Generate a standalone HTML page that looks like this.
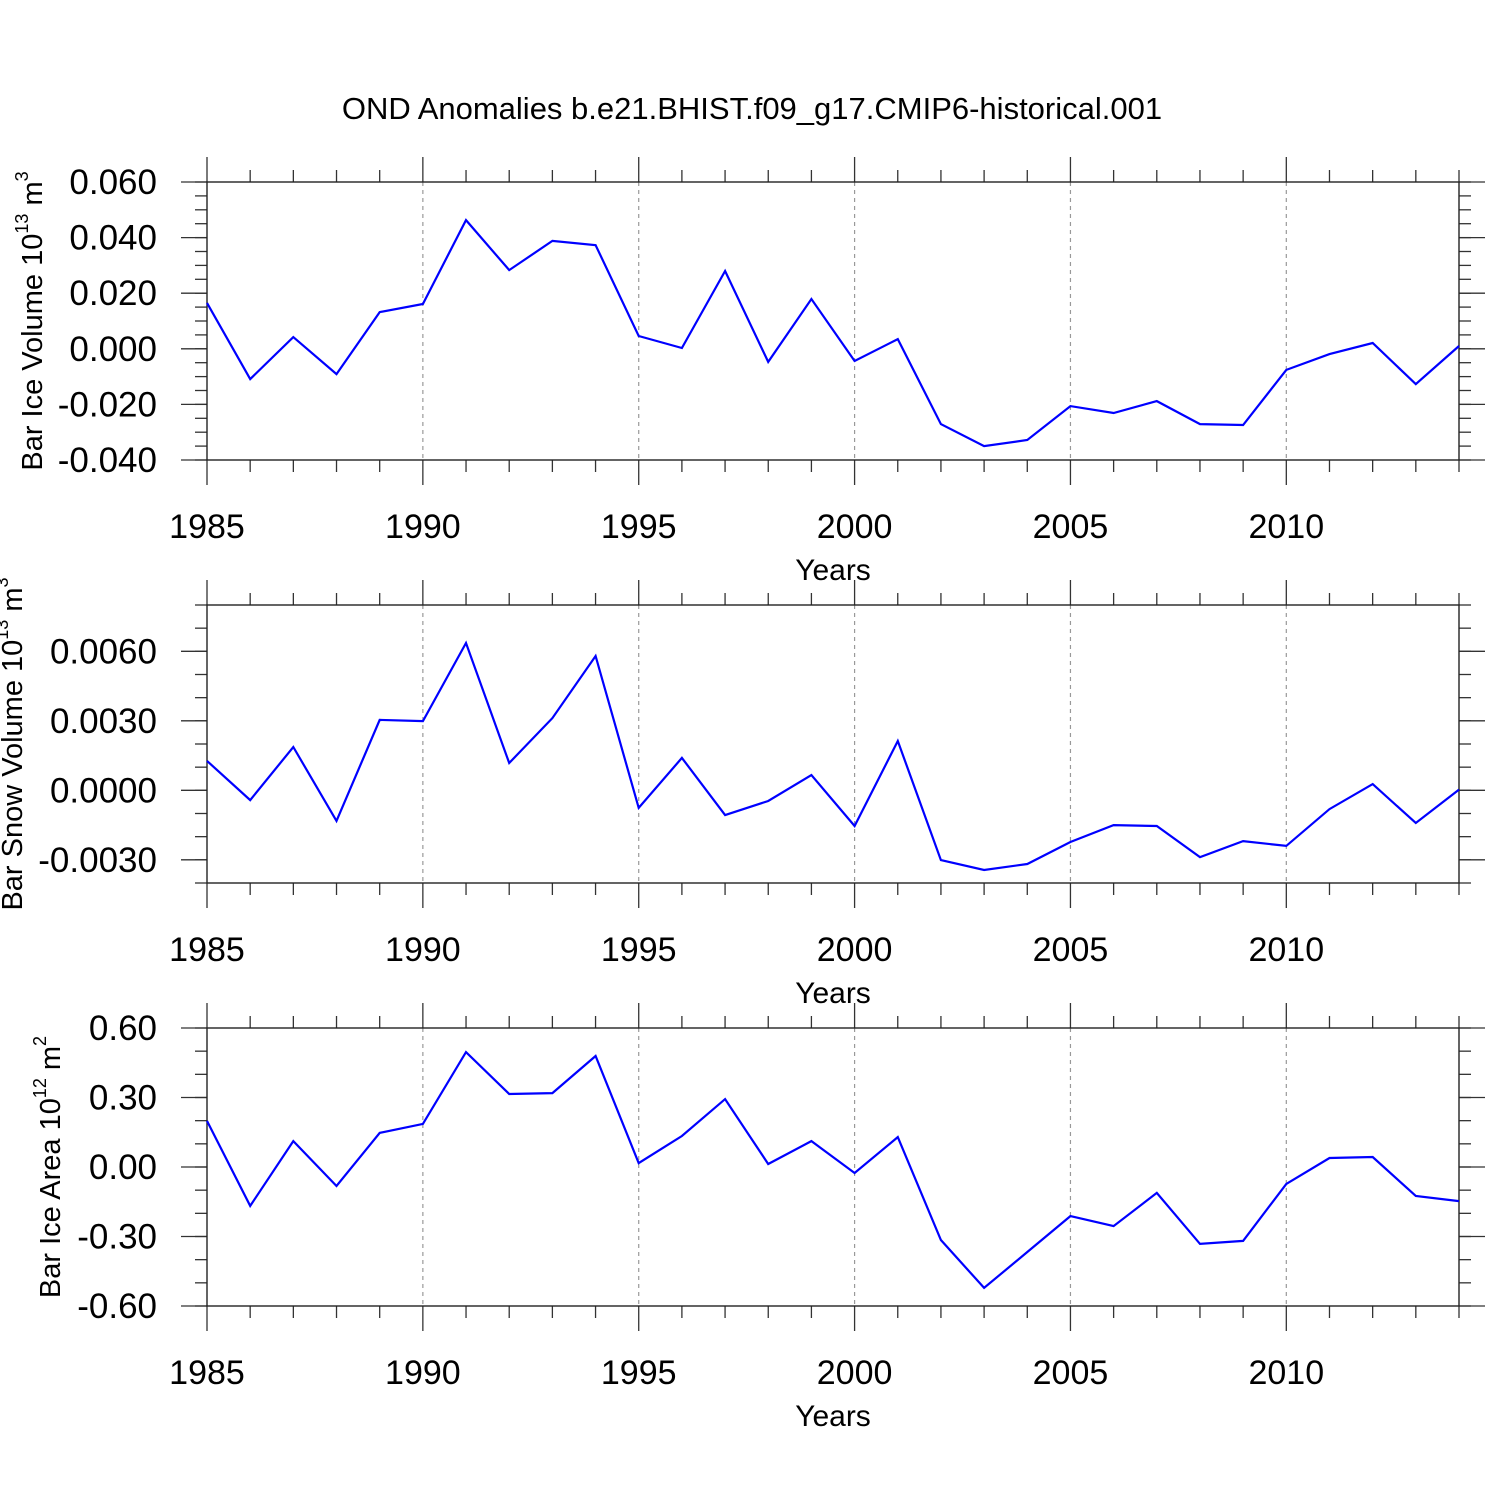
<!DOCTYPE html>
<html><head><meta charset="utf-8"><style>
html,body{margin:0;padding:0;background:#fff;}
svg{display:block;font-family:"Liberation Sans",sans-serif;}
</style></head><body>
<svg id="chart" width="1500" height="1500" viewBox="0 0 1500 1500">
<text x="752" y="119" font-size="31" text-anchor="middle">OND Anomalies b.e21.BHIST.f09_g17.CMIP6-historical.001</text>
</svg>
<script>
const years = [1985,1986,1987,1988,1989,1990,1991,1992,1993,1994,1995,1996,1997,1998,1999,2000,2001,2002,2003,2004,2005,2006,2007,2008,2009,2010,2011,2012,2013,2014];
const iceVolume = [0.0165,-0.0109,0.0042,-0.0091,0.0132,0.0161,0.0463,0.0283,0.0388,0.0373,0.0046,0.0003,0.0280,-0.0047,0.0179,-0.0044,0.0035,-0.0271,-0.0350,-0.0328,-0.0206,-0.0231,-0.0188,-0.0271,-0.0274,-0.0076,-0.0019,0.0021,-0.0127,0.0010];
const snowVolume = [0.00127,-0.00042,0.00187,-0.00132,0.00304,0.00299,0.00636,0.00118,0.00312,0.00580,-0.00076,0.00140,-0.00107,-0.00046,0.00066,-0.00154,0.00213,-0.00301,-0.00344,-0.00318,-0.00223,-0.00150,-0.00154,-0.00288,-0.00219,-0.00240,-0.00081,0.00027,-0.00141,0.00003];
const iceArea = [0.199,-0.168,0.112,-0.082,0.147,0.186,0.496,0.315,0.319,0.479,0.017,0.134,0.293,0.013,0.112,-0.026,0.129,-0.315,-0.522,-0.367,-0.212,-0.255,-0.112,-0.332,-0.319,-0.073,0.039,0.043,-0.125,-0.147];
const xTickLabels = ["1985","1990","1995","2000","2005","2010"];
const yTicks1 = [0.06,0.04,0.02,0,-0.02,-0.04];
const yTickLabels1 = ["0.060","0.040","0.020","0.000","-0.020","-0.040"];
const yTicks2 = [0.006,0.003,0,-0.003];
const yTickLabels2 = ["0.0060","0.0030","0.0000","-0.0030"];
const yTicks3 = [0.6,0.3,0,-0.3,-0.6];
const yTickLabels3 = ["0.60","0.30","0.00","-0.30","-0.60"];

const NS = "http://www.w3.org/2000/svg";
const svg = document.getElementById('chart');
const X0 = 207, X1 = 1459;
function xs(yr){ return X0 + (yr - 1985) / (2014 - 1985) * (X1 - X0); }
function el(tag, attrs, parent){ const e = document.createElementNS(NS, tag); for (const k in attrs) e.setAttribute(k, attrs[k]); (parent||svg).appendChild(e); return e; }

function panel(cfg){
  const g = el('g', {});
  
  
  const T = cfg.top, B = cfg.top + 278;
  const ys = v => T + (cfg.max - v) / (cfg.max - cfg.min) * (B - T);
  for (let yr = 1990; yr <= 2010; yr += 5) {
    const l = el('line', {x1: xs(yr), x2: xs(yr), y1: T, y2: B, stroke: '#999', 'stroke-width': 1.2, 'stroke-dasharray': '4,4'}, g);
    
    
  }
  for (let yr = 1985; yr <= 2014; yr++) {
    const major = (yr % 5 === 0);
    const len = major ? 25 : 12;
    el('line', {x1: xs(yr), x2: xs(yr), y1: T - len, y2: T, stroke: '#333', 'stroke-width': 1.3}, g);
    el('line', {x1: xs(yr), x2: xs(yr), y1: B, y2: B + len, stroke: '#333', 'stroke-width': 1.3}, g);
  }
  xTickLabels.forEach(s => {
    const t = el('text', {x: xs(+s), y: B + 78, 'font-size': 34, 'text-anchor': 'middle'}, g);
    t.textContent = s;
    
    
  });
  const xt = el('text', {x: 833, y: B + 120, 'font-size': 30, 'text-anchor': 'middle'}, g);
  xt.textContent = 'Years';
  
  
  const nMin = Math.round((cfg.max - cfg.min) / cfg.minor);
  for (let i = 0; i <= nMin; i++) {
    const v = cfg.min + i * cfg.minor, y = ys(v);
    el('line', {x1: X0 - 12, x2: X0, y1: y, y2: y, stroke: '#333', 'stroke-width': 1.3}, g);
    el('line', {x1: X1, x2: X1 + 12, y1: y, y2: y, stroke: '#333', 'stroke-width': 1.3}, g);
  }
  cfg.ticks.forEach((v, i) => {
    const y = ys(v);
    el('line', {x1: X0 - 26, x2: X0, y1: y, y2: y, stroke: '#333', 'stroke-width': 1.3}, g);
    el('line', {x1: X1, x2: X1 + 26, y1: y, y2: y, stroke: '#333', 'stroke-width': 1.3}, g);
    const t = el('text', {x: 157, y: y + 12, 'font-size': 35, 'text-anchor': 'end'}, g);
    t.textContent = cfg.labels[i];
    
    
  });
  el('rect', {x: X0, y: T, width: X1 - X0, height: B - T, fill: 'none', stroke: '#222', 'stroke-width': 1.4}, g);
  const pts = years.map((yr, i) => xs(yr).toFixed(1) + ',' + ys(cfg.data[i]).toFixed(1)).join(' ');
  const pl = el('polyline', {points: pts, fill: 'none', stroke: '#0000ff', 'stroke-width': 2.2, 'stroke-linejoin': 'miter'}, g);
  
  
  const yt = el('text', {transform: 'translate(' + cfg.tx + ',' + (T + 139) + ') rotate(-90)', 'font-size': 29, 'text-anchor': 'middle'}, g);
  yt.innerHTML = cfg.title + ' 10<tspan font-size="18" dy="-14">' + cfg.exp + '</tspan><tspan dy="14"> m</tspan><tspan font-size="18" dy="-14">' + cfg.unitExp + '</tspan>';
  
  
}
panel({name: 'ice-volume-panel', top: 182, min: -0.04, max: 0.06, minor: 0.005, ticks: yTicks1, labels: yTickLabels1, data: iceVolume, title: 'Bar Ice Volume', exp: '13', unitExp: '3', tx: 42});
panel({name: 'snow-volume-panel', top: 605, min: -0.004, max: 0.008, minor: 0.001, ticks: yTicks2, labels: yTickLabels2, data: snowVolume, title: 'Bar Snow Volume', exp: '13', unitExp: '3', tx: 22});
panel({name: 'ice-area-panel', top: 1028, min: -0.6, max: 0.6, minor: 0.1, ticks: yTicks3, labels: yTickLabels3, data: iceArea, title: 'Bar Ice Area', exp: '12', unitExp: '2', tx: 60});
</script>
</body></html>
